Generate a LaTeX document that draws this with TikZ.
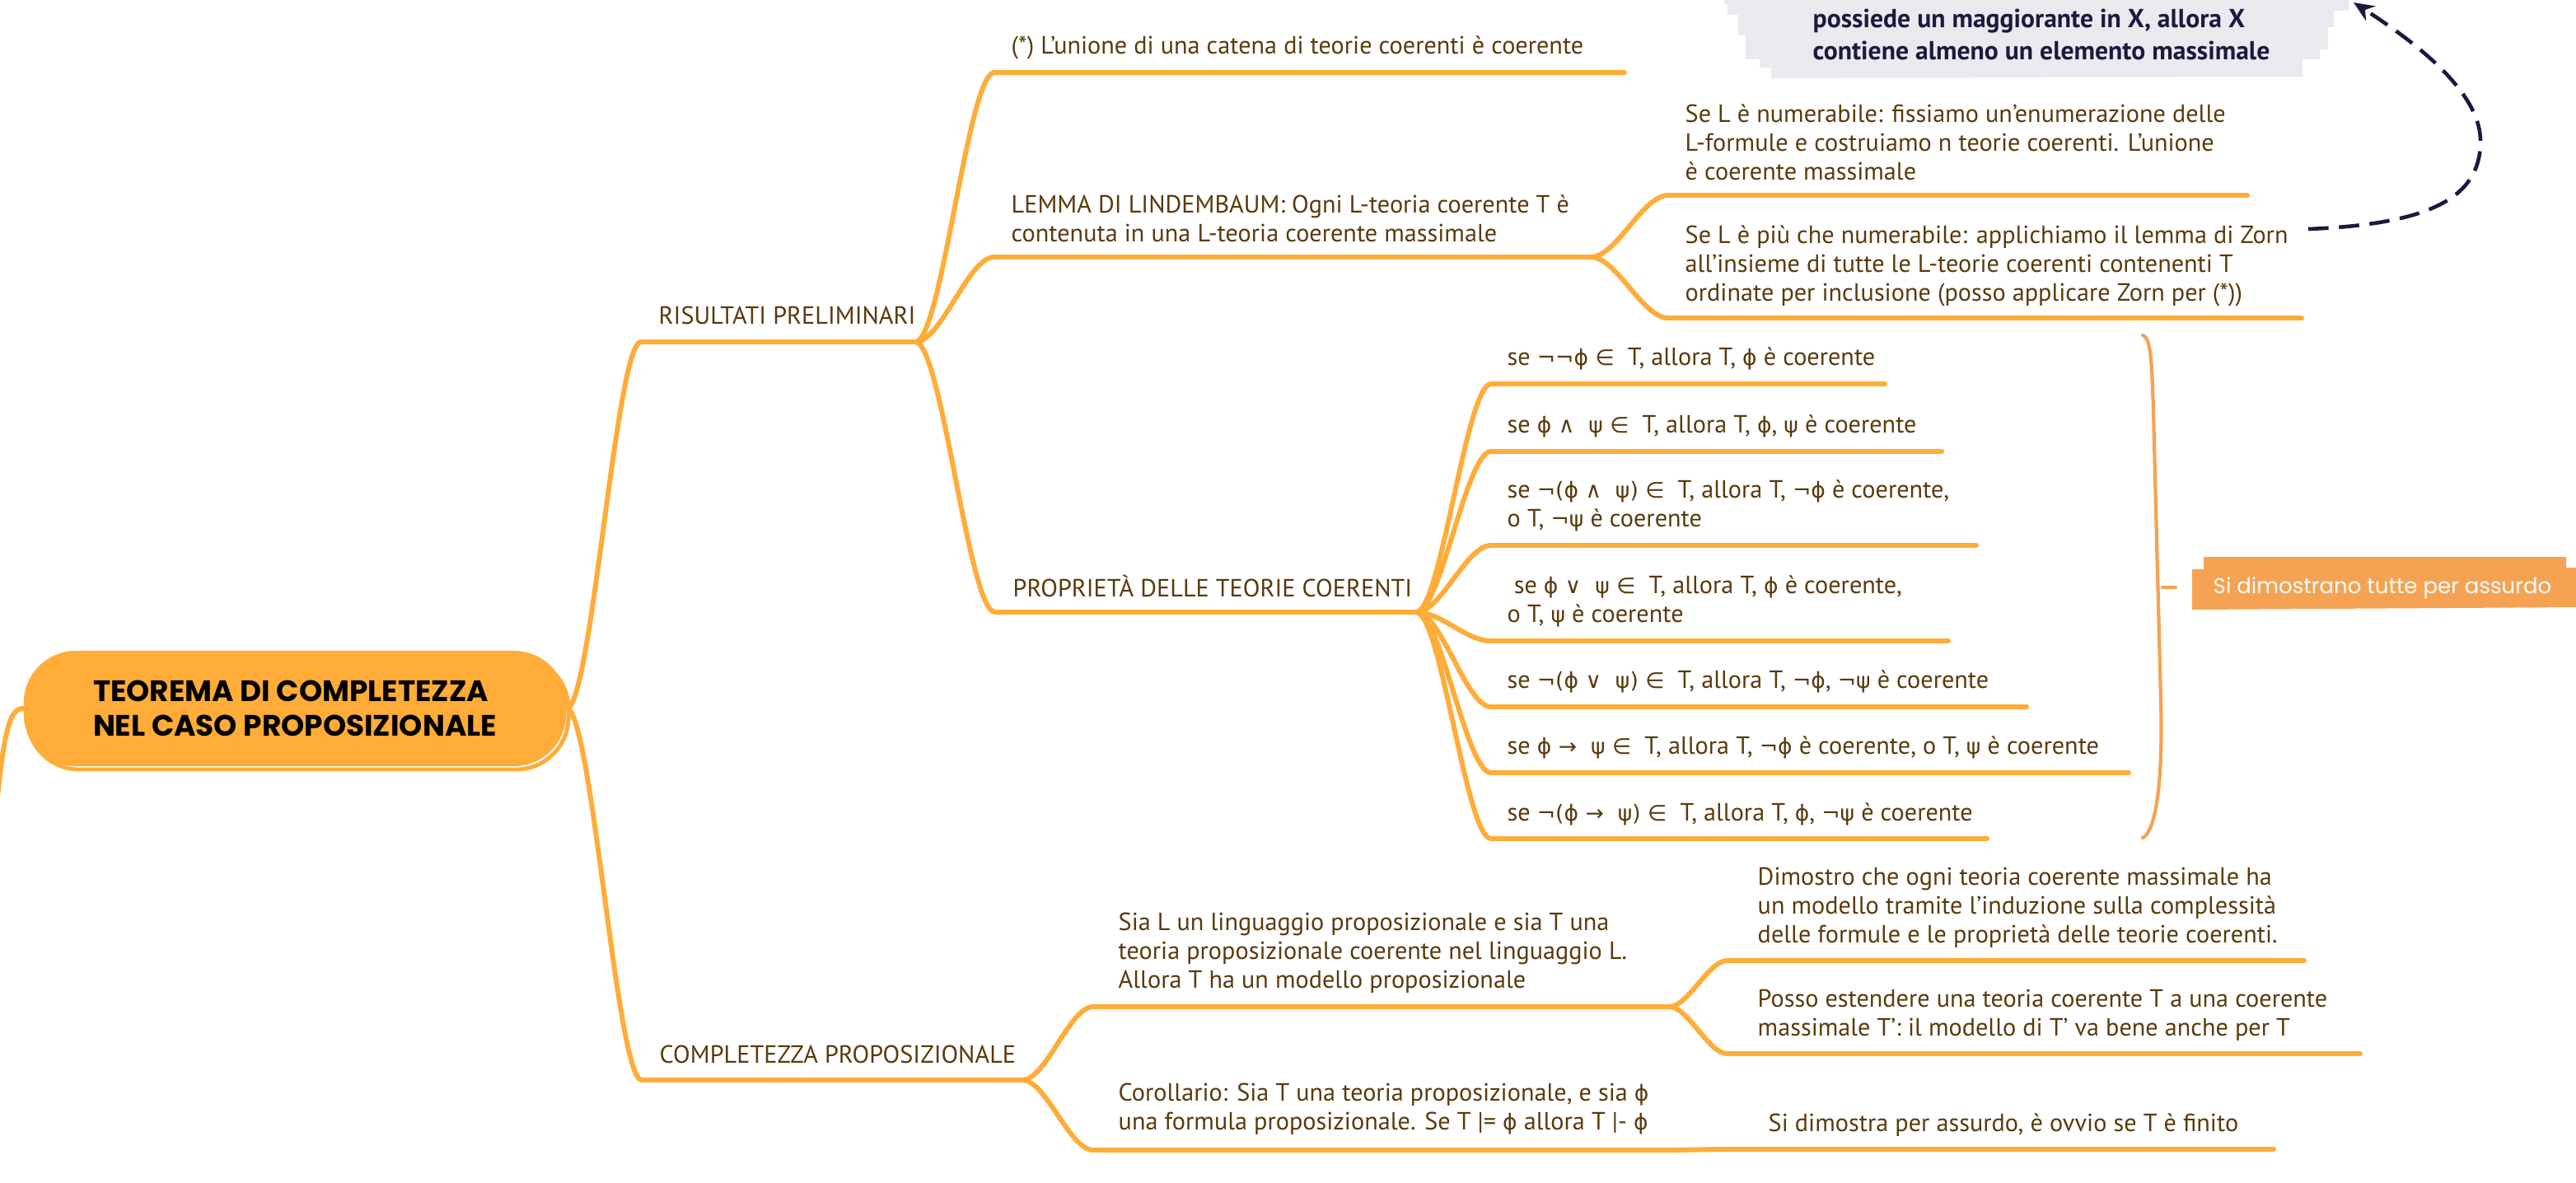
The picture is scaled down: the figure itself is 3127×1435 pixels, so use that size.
\documentclass[tikz,border=0pt]{standalone}
\usepackage{fontspec}
\setmainfont{PT Sans}
\newfontfamily\glyphf{DejaVu Sans}[Scale=0.88]
\newfontfamily\roundf{Poppins}
\usetikzlibrary{calc,arrows.meta}

\definecolor{limbcol}{HTML}{FFAC38}
\definecolor{rootcol}{HTML}{FFAC38}
\definecolor{txtbrown}{HTML}{5A3A0C}
\definecolor{lblcol}{HTML}{F5A352}
\definecolor{zorngrey}{HTML}{EAE9EE}
\definecolor{navy}{HTML}{1A1A40}

% logic symbols set in DejaVu Sans
\newcommand\gl[1]{{\glyphf #1}}

\tikzset{
  limb/.style={draw=limbcol, line width=1.7pt, line cap=round},
  branchto/.style={to path={let \p1=(\tikztostart), \p2=(\tikztotarget) in
      .. controls ({(2*\x1+\x2)/3},\y1) and ({(\x1+2*\x2)/3},\y2) .. (\tikztotarget)}},
  topic/.style={font=\fontsize{8.6}{9.9}\selectfont, text=txtbrown, inner sep=0pt,
      anchor=west, align=left},
  rootbox/.style={fill=rootcol, rounded corners=18pt, minimum width=6.58cm,
      minimum height=1.40cm, inner sep=0pt, align=left, text=black,
      font=\roundf\bfseries\fontsize{10.2}{12}\selectfont},
  zorntext/.style={font=\bfseries\fontsize{9.0}{11.2}\selectfont, text=navy,
      inner sep=0pt, anchor=west, align=left},
  labeltext/.style={font=\roundf\fontsize{7.4}{9}\selectfont, text=white, inner sep=0pt},
  bracket/.style={draw=lblcol, line width=1.2pt, line cap=round},
  refarrow/.style={draw=navy, line width=1.3pt, dash pattern=on 7pt off 3.6pt,
      -{Stealth[length=7pt,width=6pt]}},
}

\begin{document}
\begin{tikzpicture}[x=0.01cm, y=-0.01cm]
\useasboundingbox (0,0) rectangle (3127,1435);
\clip (0,0) rectangle (3127,1435);

% ---------- underline end points ----------
\coordinate (rp-l) at (778,415);   \coordinate (rp-r) at (1111,415);
\coordinate (cp-l) at (779,1311);  \coordinate (cp-r) at (1241,1311);
\coordinate (un-l) at (1207,88);   \coordinate (un-r) at (1972,88);
\coordinate (lem-l) at (1207,312); \coordinate (lem-r) at (1931,312);
\coordinate (pro-l) at (1208,743); \coordinate (pro-r) at (1719,743);
\coordinate (num-l) at (2025,237); \coordinate (num-r) at (2728,237);
\coordinate (piu-l) at (2025,386); \coordinate (piu-r) at (2794,386);
\coordinate (p1-l) at (1810,466);  \coordinate (p1-r) at (2288,466);
\coordinate (p2-l) at (1810,548);  \coordinate (p2-r) at (2357,548);
\coordinate (p3-l) at (1810,662);  \coordinate (p3-r) at (2399,662);
\coordinate (p4-l) at (1810,778);  \coordinate (p4-r) at (2365,778);
\coordinate (p5-l) at (1810,858);  \coordinate (p5-r) at (2460,858);
\coordinate (p6-l) at (1810,938);  \coordinate (p6-r) at (2584,938);
\coordinate (p7-l) at (1810,1018); \coordinate (p7-r) at (2412,1018);
\coordinate (sia-l) at (1327,1222); \coordinate (sia-r) at (2026,1222);
\coordinate (cor-l) at (1327,1396); \coordinate (cor-r) at (2026,1396);
\coordinate (dim-l) at (2097,1166); \coordinate (dim-r) at (2797,1166);
\coordinate (pos-l) at (2097,1279); \coordinate (pos-r) at (2865,1279);
\coordinate (fin-l) at (2097,1395); \coordinate (fin-r) at (2760,1395);

% ---------- root ----------
\draw[rootcol, line width=1.4pt, rounded corners=18pt] (33,797) rectangle (690,934);
\node[rootbox] (root) at (358,860) {TEOREMA DI COMPLETEZZA\\NEL CASO PROPOSIZIONALE};
\coordinate (offl) at (-6,1000);
\draw[limb] (root.west) .. controls (12,860) and (4,885) .. (offl);

% ---------- connectors ----------
\draw[limb] (root.east) to[branchto] (rp-l);
\draw[limb] (root.east) to[branchto] (cp-l);
\foreach \c in {un,lem,pro} \draw[limb] (rp-r) to[branchto] (\c-l);
\foreach \c in {num,piu} \draw[limb] (lem-r) to[branchto] (\c-l);
\foreach \c in {p1,p2,p3,p4,p5,p6,p7} \draw[limb] (pro-r) to[branchto] (\c-l);
\foreach \c in {sia,cor} \draw[limb] (cp-r) to[branchto] (\c-l);
\foreach \c in {dim,pos} \draw[limb] (sia-r) to[branchto] (\c-l);
\draw[limb] (cor-r) to[branchto] (fin-l);

% ---------- underlines ----------
\foreach \c in {rp,cp,un,lem,pro,num,piu,p1,p2,p3,p4,p5,p6,p7,sia,cor,dim,pos,fin}
  \draw[limb] (\c-l) -- (\c-r);

% ---------- topic texts ----------
\node[topic] (rp) at (799,383) {RISULTATI PRELIMINARI};
\node[topic] (cp) at (800,1280) {COMPLETEZZA PROPOSIZIONALE};
\node[topic] (un) at (1227,58) {(*) L'unione di una catena di teorie coerenti è coerente};
\node[topic] (lem) at (1227,265) {LEMMA DI LINDEMBAUM: Ogni L-teoria coerente T è\\contenuta in una L-teoria coerente massimale};
\node[topic] (pro) at (1229,712) {PROPRIETÀ DELLE TEORIE COERENTI};
\node[topic] (num) at (2045,173) {Se L è numerabile: fissiamo un'enumerazione delle\\L-formule e costruiamo n teorie coerenti. L'unione\\è coerente massimale};
\node[topic] (piu) at (2045,323) {Se L è più che numerabile: applichiamo il lemma di Zorn\\all'insieme di tutte le L-teorie coerenti contenenti T\\ordinate per inclusione (posso applicare Zorn per (*))};
\node[topic] (p1) at (1829,435) {se \gl{¬¬ϕ ∈}\ \ T, allora T, \gl{ϕ} è coerente};
\node[topic] (p2) at (1829,517) {se \gl{ϕ ∧\ \ ψ ∈}\ \ T, allora T, \gl{ϕ}, \gl{ψ} è coerente};
\node[topic] (p3) at (1829,614) {se \gl{¬(ϕ ∧\ \ ψ) ∈}\ \ T, allora T, \gl{¬ϕ} è coerente,\\o T, \gl{¬ψ} è coerente};
\node[topic] (p4) at (1829,730) {\ se \gl{ϕ ∨\ \ ψ ∈}\ \ T, allora T, \gl{ϕ} è coerente,\\o T, \gl{ψ} è coerente};
\node[topic] (p5) at (1829,827) {se \gl{¬(ϕ ∨\ \ ψ) ∈}\ \ T, allora T, \gl{¬ϕ}, \gl{¬ψ} è coerente};
\node[topic] (p6) at (1829,907) {se \gl{ϕ →\ \ ψ ∈}\ \ T, allora T, \gl{¬ϕ} è coerente, o T, \gl{ψ} è coerente};
\node[topic] (p7) at (1829,988) {se \gl{¬(ϕ →\ \ ψ) ∈}\ \ T, allora T, \gl{ϕ}, \gl{¬ψ} è coerente};
\node[topic] (sia) at (1357,1157) {Sia L un linguaggio proposizionale e sia T una\\teoria proposizionale coerente nel linguaggio L.\\Allora T ha un modello proposizionale};
\node[topic] (cor) at (1357,1346) {Corollario: Sia T una teoria proposizionale, e sia \gl{ϕ}\\una formula proposizionale. Se T |= \gl{ϕ} allora T |- \gl{ϕ}};
\node[topic] (dim) at (2133,1102) {Dimostro che ogni teoria coerente massimale ha\\un modello tramite l'induzione sulla complessità\\delle formule e le proprietà delle teorie coerenti.};
\node[topic] (pos) at (2133,1232) {Posso estendere una teoria coerente T a una coerente\\massimale T': il modello di T' va bene anche per T};
\node[topic] (fin) at (2146,1366) {Si dimostra per assurdo, è ovvio se T è finito};

% ---------- summary bracket over the seven properties ----------
\coordinate (br-t) at (2601,407);
\coordinate (br-b) at (2601,1017);
\draw[bracket] (br-t) .. controls (2610,410) and (2612,430) .. (2614,500)
  -- (2623,850) .. controls (2626,960) and (2615,1010) .. (br-b);
\fill[lblcol] (2675,676) -- (3115,676) -- (3115,689) -- (3127,689) -- (3127,737)
  -- (2661,740) -- (2661,691) -- (2675,691) -- cycle;
\node[labeltext] (assurdo) at (2892,714) {Si dimostrano tutte per assurdo};
\coordinate (br-m) at (2625,713);
\coordinate (tick-e) at (2641,713);
\draw[bracket] (br-m) -- (tick-e);

% ---------- Zorn's lemma note ----------
\fill[zorngrey] (2093,-5) -- (2851,-5) -- (2851,13) -- (2833,13) -- (2833,33)
  -- (2826,33) -- (2826,60) -- (2816,60) -- (2816,72) -- (2795,72) -- (2795,93)
  -- (2150,95) -- (2150,82) -- (2136,82) -- (2136,72) -- (2119,72) -- (2119,43)
  -- (2110,43) -- (2110,18) -- (2097,18) -- (2097,5) -- (2093,5) -- cycle;
\node[zorntext] (zorn) at (2200,22) {ordine parziale tale che ogni sua catena\\possiede un maggiorante in X, allora X\\contiene almeno un elemento massimale};
\coordinate (zorn-c) at (2857,3);
\coordinate (piu-e) at (2802,278);
\draw[refarrow] (piu-e) .. controls (2950,272) and (3012,240) .. (3011,170)
  .. controls (3010,110) and (2930,50) .. (zorn-c);
\end{tikzpicture}
\end{document}
